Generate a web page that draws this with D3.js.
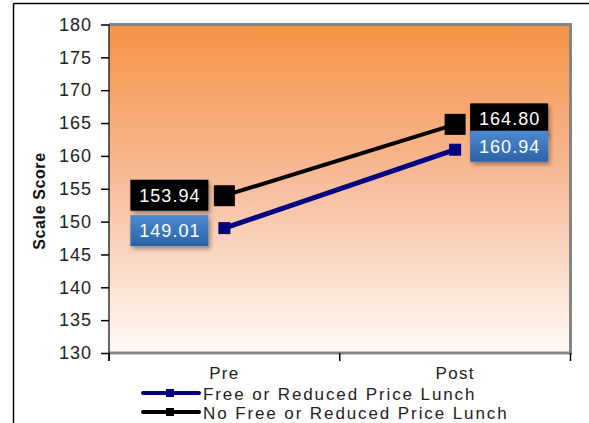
<!DOCTYPE html>
<html>
<head>
<meta charset="utf-8">
<script src="https://cdn.jsdelivr.net/npm/d3@7"></script>
<style>
  html, body { margin: 0; padding: 0; background: #fff; }
  svg { display: block; font-family: Arial, "Liberation Sans", sans-serif; }
</style>
</head>
<body>
<svg id="chart" width="589" height="423"></svg>
<script>
// Scale scores by lunch status, before and after
const categories = ["Pre", "Post"];
const seriesNames = ["Free or Reduced Price Lunch", "No Free or Reduced Price Lunch"];
const freeLunch = [149.01, 160.94];
const noFreeLunch = [153.94, 164.80];
const yTicks = [130, 135, 140, 145, 150, 155, 160, 165, 170, 175, 180];

const svg = d3.select("#chart");
const W = 589, H = 423;
const plot = { left: 109, top: 24.5, right: 570.5, bottom: 353 };

// outer frame (left and top edges)
svg.append("line").attr("x1", 13.5).attr("x2", 13.5).attr("y1", 3.5).attr("y2", H)
  .attr("stroke", "#000").attr("stroke-width", 1.5);
svg.append("line").attr("x1", 13.5).attr("x2", W).attr("y1", 3.5).attr("y2", 3.5)
  .attr("stroke", "#000").attr("stroke-width", 1.5);

const defs = svg.append("defs");
const grad = defs.append("linearGradient").attr("id", "bg").attr("x1", 0).attr("y1", 0).attr("x2", 0).attr("y2", 1);
grad.append("stop").attr("offset", "0%").attr("stop-color", "#f59444");
grad.append("stop").attr("offset", "45%").attr("stop-color", "#f7b995");
grad.append("stop").attr("offset", "100%").attr("stop-color", "#fefaf8");

const blueGrad = defs.append("linearGradient").attr("id", "blueBox").attr("x1", 0).attr("y1", 0).attr("x2", 0).attr("y2", 1);
blueGrad.append("stop").attr("offset", "0%").attr("stop-color", "#4c8ad0");
blueGrad.append("stop").attr("offset", "100%").attr("stop-color", "#2c62a8");

const shadow = defs.append("filter").attr("id", "shadow").attr("x", "-20%").attr("y", "-20%").attr("width", "150%").attr("height", "160%");
shadow.append("feDropShadow").attr("dx", 2).attr("dy", 3).attr("stdDeviation", 2)
  .attr("flood-color", "#000").attr("flood-opacity", 0.35);

const x = d3.scaleBand().domain(categories).range([plot.left, plot.right]).padding(0);
const y = d3.scaleLinear().domain([130, 180]).range([plot.bottom, plot.top]);

const txtFont = "Arial, 'Liberation Sans', sans-serif";

// plot area fill
svg.append("rect").attr("x", plot.left).attr("y", plot.top)
  .attr("width", plot.right - plot.left).attr("height", plot.bottom - plot.top)
  .attr("fill", "url(#bg)");

// gray plot border (top, right, bottom)
svg.append("path")
  .attr("d", `M${plot.left},${plot.top} H${plot.right} V${plot.bottom} H${plot.left}`)
  .attr("fill", "none").attr("stroke", "#858585").attr("stroke-width", 3);

// y axis
const yAxis = d3.axisLeft(y).tickValues(yTicks).tickSize(8).tickPadding(10).tickFormat(d3.format("d"));
const gy = svg.append("g").attr("transform", `translate(${plot.left},0)`).call(yAxis);
gy.select(".domain").attr("stroke", "#000").attr("stroke-width", 1.2).attr("d", `M0,${plot.top}V${plot.bottom + 8}`);
gy.selectAll(".tick line").attr("stroke", "#000").attr("stroke-width", 1.5);
gy.selectAll(".tick text").attr("font-size", 18).attr("letter-spacing", 1).attr("fill", "#222")
  .attr("font-family", txtFont).attr("dx", 1);

// x axis
const xAxis = d3.axisBottom(x).tickSize(0).tickPadding(14);
const gx = svg.append("g").attr("transform", `translate(0,${plot.bottom})`).call(xAxis);
gx.select(".domain").remove();
gx.selectAll(".tick text").attr("font-size", 17).attr("letter-spacing", 1.3).attr("fill", "#222").attr("font-family", txtFont);
const xTickPos = [plot.left, (plot.left + plot.right) / 2, plot.right];
svg.selectAll(".xtick").data(xTickPos).enter().append("line")
  .attr("x1", d => d).attr("x2", d => d).attr("y1", plot.bottom).attr("y2", plot.bottom + 8)
  .attr("stroke", "#000").attr("stroke-width", 1.5);

// y axis title
svg.append("text").attr("transform", `translate(45,201) rotate(-90)`)
  .attr("text-anchor", "middle").attr("font-size", 16).attr("font-weight", "bold")
  .attr("letter-spacing", 0.6).attr("fill", "#111").text("Scale Score");

const cx = c => x(c) + x.bandwidth() / 2;

const series = [
  { name: seriesNames[0], values: freeLunch, color: "#000080", width: 5, marker: 12, box: "url(#blueBox)" },
  { name: seriesNames[1], values: noFreeLunch, color: "#000000", width: 4, marker: 21, box: "#000" }
];

const line = d3.line().x((d, i) => cx(categories[i])).y(d => y(d));

series.forEach(s => {
  svg.append("path").datum(s.values).attr("d", line)
    .attr("fill", "none").attr("stroke", s.color).attr("stroke-width", s.width);
  svg.selectAll(null).data(s.values).enter().append("rect")
    .attr("x", (d, i) => cx(categories[i]) - s.marker / 2)
    .attr("y", d => y(d) - s.marker / 2)
    .attr("width", s.marker).attr("height", s.marker)
    .attr("fill", s.color);
});

// value labels: Pre labels sit left of the point, Post labels right of it
const boxW = 78, boxH = 31;
const labelPlacements = [
  { s: 1, i: 0, dx: -94, dy: -16 },
  { s: 0, i: 0, dx: -94, dy: -13 },
  { s: 1, i: 1, dx: 15, dy: -21 },
  { s: 0, i: 1, dx: 15, dy: -19 }
];
labelPlacements.forEach(p => {
  const s = series[p.s];
  const v = s.values[p.i];
  const bx = cx(categories[p.i]) + p.dx;
  const by = y(v) + p.dy;
  const g = svg.append("g");
  g.append("rect").attr("x", bx).attr("y", by).attr("width", boxW).attr("height", boxH)
    .attr("fill", s.box).attr("filter", "url(#shadow)");
  g.append("text").attr("x", bx + boxW / 2 + 0.5).attr("y", by + boxH / 2 + 6.5)
    .attr("text-anchor", "middle").attr("font-size", 18).attr("letter-spacing", 1).attr("fill", "#fff")
    .text(v.toFixed(2));
});

// legend
const legend = svg.append("g");
series.forEach((s, k) => {
  const ly = 393 + k * 19;
  legend.append("line").attr("x1", 143).attr("x2", 199).attr("y1", ly).attr("y2", ly)
    .attr("stroke", s.color).attr("stroke-width", 4).attr("stroke-linecap", "round");
  legend.append("rect").attr("x", 166).attr("y", ly - 4).attr("width", 8).attr("height", 8).attr("fill", s.color);
  legend.append("text").attr("x", 203).attr("y", ly + 6.5).attr("font-size", 17)
    .attr("letter-spacing", 1.9).attr("fill", "#222").text(s.name);
});
</script>
</body>
</html>
